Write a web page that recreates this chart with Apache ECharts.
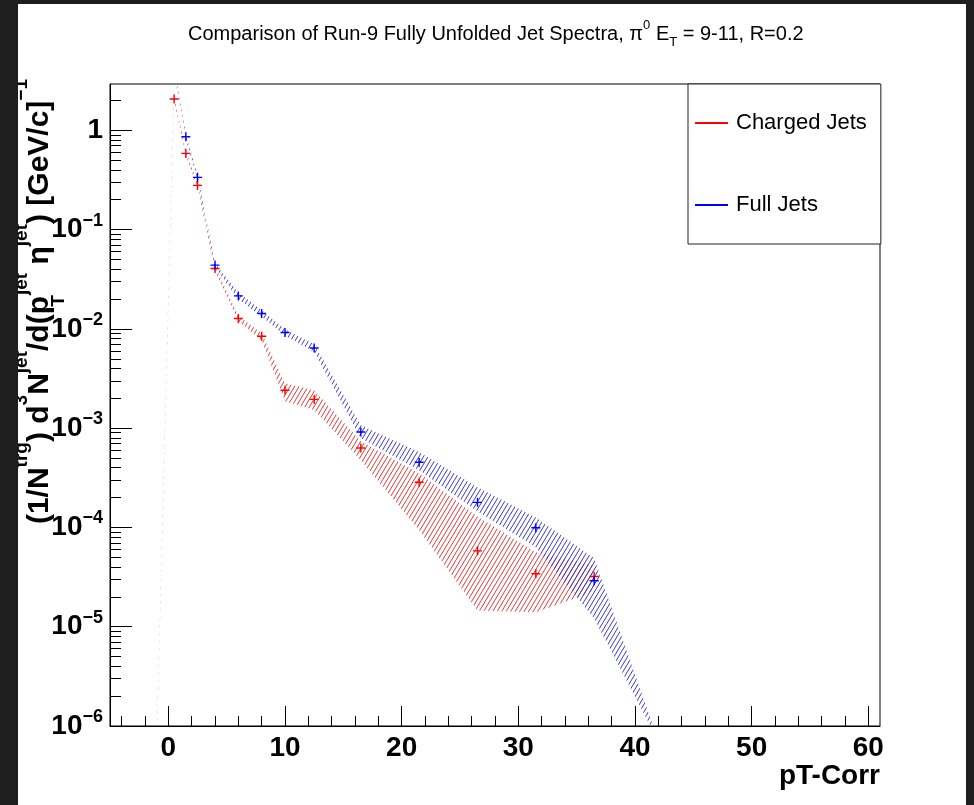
<!DOCTYPE html>
<html>
<head>
<meta charset="utf-8">
<title>Run-9 Fully Unfolded Jet Spectra</title>
<script src="https://cdn.jsdelivr.net/npm/echarts@6.0.0/dist/echarts.min.js"></script>
<style>
  html, body { margin: 0; padding: 0; background: #ffffff; }
  #chart { width: 974px; height: 805px; }
</style>
</head>
<body>
<div id="chart"></div>
<script>
// Bin centres of the unfolded spectra (pT-Corr, GeV/c)
const ptCharged = [-1, 0.5, 1.5, 2.5, 4, 6, 8, 10, 12.5, 16.5, 21.5, 26.5, 31.5, 36.5];
const chargedYield = [6.8e-7, 2.07, 0.586, 0.279, 0.0406, 0.0127, 0.00844, 0.00241, 0.00195, 6.31e-4, 2.85e-4, 5.81e-5, 3.42e-5, 3.21e-5];
const chargedUpper = [7.1e-7, 2.17, 0.618, 0.294, 0.0428, 0.0136, 0.00905, 0.00284, 0.00241, 7.38e-4, 3.51e-4, 1.29e-4, 5.61e-5, 4.15e-5];
const chargedLower = [6.5e-7, 1.97, 0.557, 0.265, 0.0386, 0.01196, 0.00769, 0.00187, 0.00152, 4.75e-4, 9.35e-5, 1.46e-5, 1.40e-5, 2.27e-5];

const ptFull = [-1, 0.5, 1.5, 2.5, 4, 6, 8, 10, 12.5, 16.5, 21.5, 26.5, 31.5, 36.5, 41.5];
const fullYield = [6.8e-7, 4.0, 0.862, 0.336, 0.0439, 0.0215, 0.0143, 0.0092, 0.00643, 9.16e-4, 4.53e-4, 1.79e-4, 9.95e-5, 2.90e-5, 9.7e-7];
const fullUpper = [7.1e-7, 4.25, 0.907, 0.354, 0.0459, 0.0232, 0.0154, 0.00993, 0.00701, 0.00107, 5.75e-4, 2.54e-4, 1.26e-4, 4.89e-5, 1.04e-6];
const fullLower = [6.5e-7, 3.78, 0.815, 0.319, 0.0419, 0.0199, 0.0133, 0.00854, 0.00589, 7.91e-4, 3.77e-4, 1.45e-4, 6.30e-5, 1.21e-5, 9.1e-7];

// Axis ticks
const xMajorTicks = [0, 10, 20, 30, 40, 50, 60];
const yDecadeTicks = [1, 0.1, 0.01, 0.001, 1e-4, 1e-5, 1e-6];

const xMinorTicks = [];
for (let v = -4; v <= 60; v += 2) if (v % 10 !== 0) xMinorTicks.push(v);
const yMinorTicks = [];
for (let e = -6; e <= 0; e++) for (let m = 2; m <= 9; m++) {
  const v = m * Math.pow(10, e);
  if (v < 2.93) yMinorTicks.push(v);
}

const FONT = '"Liberation Sans", Helvetica, Arial, sans-serif';
const RED = '#ff0000';
const BLUE = '#0000ff';

// Diagonal hatch tile used to fill the systematic bands
function hatchTile(color) {
  const w = 9, h = 15, pitch = 4.5;
  const c = document.createElement('canvas');
  c.width = w; c.height = h;
  const ctx = c.getContext('2d');
  ctx.strokeStyle = color;
  ctx.lineWidth = 1;
  ctx.beginPath();
  for (let x0 = -w; x0 <= w; x0 += pitch) {
    ctx.moveTo(x0, h);
    ctx.lineTo(x0 + w, 0);
  }
  ctx.stroke();
  return c;
}

function bandSeries(name, xs, upper, lower, color, z) {
  const pattern = { image: hatchTile(color), repeat: 'repeat' };
  return {
    type: 'custom',
    name: name,
    silent: true,
    clip: true,
    z: z,
    data: xs.map((x, i) => [x, upper[i]]),
    encode: { x: 0, y: 1 },
    renderItem: function (params, api) {
      if (params.dataIndex !== 0) return null;
      const pts = [];
      for (let i = 0; i < xs.length; i++) pts.push(api.coord([xs[i], upper[i]]));
      for (let i = xs.length - 1; i >= 0; i--) pts.push(api.coord([xs[i], lower[i]]));
      const cs = params.coordSys;
      return {
        type: 'polygon',
        shape: { points: pts },
        style: { fill: pattern, stroke: null },
        clipPath: { type: 'rect', shape: { x: cs.x, y: cs.y, width: cs.width, height: cs.height } }
      };
    }
  };
}

const PLUS = 'path://M0,4.2H10V5.8H0Z M4.2,0H5.8V10H4.2Z';

function pointSeries(name, xs, ys, color) {
  return {
    type: 'scatter',
    name: name,
    symbol: PLUS,
    symbolSize: 9,
    clip: true,
    z: 5,
    itemStyle: { color: color, opacity: 1 },
    data: xs.map((x, i) => [x, ys[i]])
  };
}

function decadeLabel(v) {
  const e = v > 0 ? Math.round(Math.log10(v)) : Math.round(v);
  if (e === 0) return '{b|1}';
  return '{b|10}{s|' + (e < 0 ? '\u2212' + (-e) : String(e)) + '}';
}

const chart = echarts.init(document.getElementById('chart'));

chart.setOption({
  backgroundColor: '#ffffff',
  animation: false,
  title: {
    text: 'Comparison of Run-9 Fully Unfolded Jet Spectra, \u03c0{s|0} E{u|T} = 9-11, R=0.2',
    left: 188,
    top: 19,
    padding: 0,
    textStyle: {
      fontFamily: FONT, fontSize: 20, fontWeight: 'normal', color: '#000', lineHeight: 30,
      rich: {
        s: { fontFamily: FONT, fontSize: 13, color: '#000', verticalAlign: 'top', lineHeight: 14 },
        u: { fontFamily: FONT, fontSize: 13, color: '#000', verticalAlign: 'bottom', lineHeight: 13 }
      }
    }
  },
  legend: {
    data: [{ name: 'Charged Jets', icon: 'rect' }, { name: 'Full Jets', icon: 'rect' }],
    orient: 'vertical',
    left: 688,
    top: 84,
    itemWidth: 33,
    itemHeight: 2,
    itemGap: 60,
    padding: [28, 14, 28, 7],
    backgroundColor: '#ffffff',
    borderColor: '#222',
    borderWidth: 1,
    selectedMode: false,
    textStyle: { fontFamily: FONT, fontSize: 22, color: '#000', lineHeight: 22, padding: [0, 0, 0, 3] }
  },
  grid: {
    left: 110, right: 94, top: 84, bottom: 79,
    show: true, borderColor: '#000', borderWidth: 1, backgroundColor: 'transparent'
  },
  xAxis: [
    {
      type: 'value', min: -5, max: 61, position: 'bottom',
      name: 'pT-Corr', nameLocation: 'end', nameGap: 0,
      nameTextStyle: { fontFamily: FONT, fontSize: 28, fontWeight: 'bold', color: '#000',
        align: 'right', verticalAlign: 'top', padding: [36, 0, 0, 0] },
      axisLine: { show: true, onZero: false, lineStyle: { color: '#000', width: 1 } },
      axisTick: { show: true, inside: true, length: 20, customValues: xMajorTicks, lineStyle: { color: '#000', width: 1 } },
      axisLabel: { show: true, customValues: xMajorTicks, margin: 8, fontFamily: FONT, fontSize: 28, fontWeight: 'bold', color: '#000' },
      splitLine: { show: false }
    },
    {
      type: 'value', min: -5, max: 61, position: 'bottom', offset: 0,
      axisLine: { show: false, onZero: false },
      axisTick: { show: true, inside: true, length: 10, customValues: xMinorTicks, lineStyle: { color: '#000', width: 1 } },
      axisLabel: { show: false },
      splitLine: { show: false }
    }
  ],
  yAxis: [
    {
      type: 'log', logBase: 10, min: 1e-6, max: 2.93, position: 'left',
      axisLine: { show: true, onZero: false, lineStyle: { color: '#000', width: 1 } },
      axisTick: { show: true, inside: true, length: 22, customValues: yDecadeTicks, lineStyle: { color: '#000', width: 1 } },
      axisLabel: {
        show: true, customValues: yDecadeTicks, margin: 7, formatter: decadeLabel,
        rich: {
          b: { fontFamily: FONT, fontSize: 28, fontWeight: 'bold', color: '#000', lineHeight: 36 },
          s: { fontFamily: FONT, fontSize: 18, fontWeight: 'bold', color: '#000', lineHeight: 14, verticalAlign: 'top' }
        }
      },
      splitLine: { show: false }
    },
    {
      type: 'log', logBase: 10, min: 1e-6, max: 2.93, position: 'left', offset: 0,
      axisLine: { show: false, onZero: false },
      axisTick: { show: true, inside: true, length: 11, customValues: yMinorTicks, lineStyle: { color: '#000', width: 1 } },
      axisLabel: { show: false },
      splitLine: { show: false }
    }
  ],
  graphic: [
    { type: 'rect', z: 100, shape: { x: 0, y: 0, width: 18, height: 805 }, style: { fill: '#1e1e1e' } },
    { type: 'rect', z: 100, shape: { x: 0, y: 0, width: 974, height: 4 }, style: { fill: '#1e1e1e' } },
    { type: 'rect', z: 100, shape: { x: 966, y: 0, width: 8, height: 805 }, style: { fill: '#1e1e1e' } },
    {
      type: 'text', z: 50,
      x: 40, y: 79,
      rotation: Math.PI / 2,
      style: {
        text: '{b|(1/N}{p|trg}{b|) d}{p|3}{b|N}{p|jet}{b|/d(p}{q|T}{p|jet}{b| \u03b7}{p|jet}{b|) [GeV/c]}{p|\u22121}',
        align: 'right',
        verticalAlign: 'middle',
        rich: {
          b: { fontFamily: FONT, fontSize: 30, fontWeight: 'bold', fill: '#000', lineHeight: 56 },
          p: { fontFamily: FONT, fontSize: 19, fontWeight: 'bold', fill: '#000', lineHeight: 20, verticalAlign: 'top' },
          q: { fontFamily: FONT, fontSize: 19, fontWeight: 'bold', fill: '#000', lineHeight: 20, verticalAlign: 'bottom', width: 1 }
        }
      }
    }
  ],
  series: [
    bandSeries('Charged Jets band', ptCharged, chargedUpper, chargedLower, '#e03a3a', 2),
    bandSeries('Full Jets band', ptFull, fullUpper, fullLower, '#3a3ad2', 3),
    pointSeries('Charged Jets', ptCharged, chargedYield, RED),
    pointSeries('Full Jets', ptFull, fullYield, BLUE)
  ]
});
</script>
</body>
</html>
